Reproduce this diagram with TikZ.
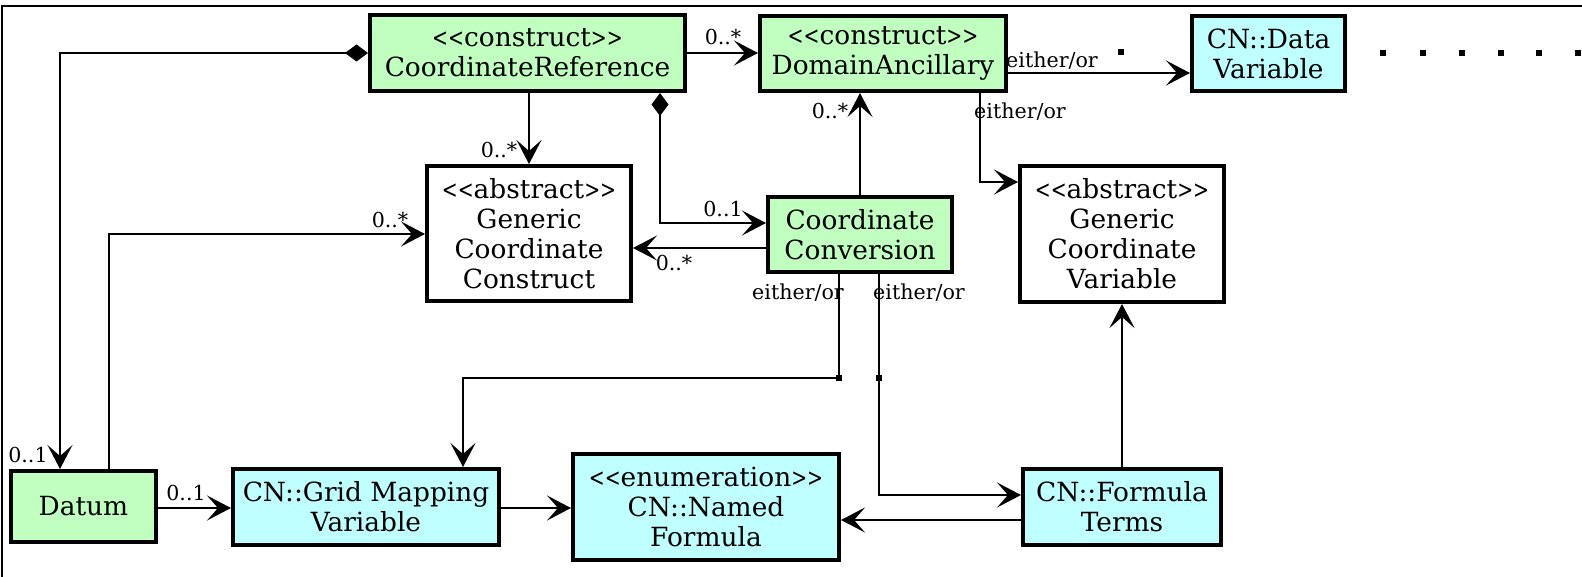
\documentclass[tikz,border=0pt]{standalone}
\usepackage{graphicx}
\usepackage{fontspec}
\setmainfont{DejaVu Serif}
\usetikzlibrary{arrows.meta}
\newcommand\lgu{\scalebox{0.72}[0.95]{<\kern0pt<}}
\newcommand\rgu{\scalebox{0.72}[0.95]{>\kern0pt>}}
\definecolor{boxgreen}{HTML}{C0FFC0}
\definecolor{boxcyan}{HTML}{C0FFFF}
\begin{document}
\begin{tikzpicture}[x=0.5pt,y=-0.5pt,
  box/.style={draw, line width=2pt, inner sep=0pt, align=center, font=\fontsize{13.2}{15}\selectfont},
  gbox/.style={box, fill=boxgreen},
  cbox/.style={box, fill=boxcyan},
  wbox/.style={box, fill=white},
  conn/.style={line width=1pt},
  arr/.style={conn, -{Stealth[length=12pt,width=12.5pt,inset=5.5pt]}},
  darr/.style={conn, {Diamond[length=11.5pt,width=8.5pt]}-{Stealth[length=12pt,width=12.5pt,inset=5.5pt]}},
  lab/.style={inner sep=0pt, font=\fontsize{10.3}{12}\selectfont},
  jdot/.style={fill, minimum size=2.8pt, inner sep=0pt, outer sep=0pt}
]
\useasboundingbox (0,0) rectangle (1582,577);
% frame
\draw[line width=1pt] (2,577) -- (2,6) -- (1582,6);

% boxes
\node[gbox, minimum width=157.5pt, minimum height=38pt] (CR) at (527.5,53) {\lgu construct\rgu\\CoordinateReference};
\node[gbox, minimum width=123pt, minimum height=37.5pt] (DA) at (883,53.5) {\lgu construct\rgu\\DomainAncillary};
\node[cbox, minimum width=76.5pt, minimum height=37.5pt] (DV) at (1268.5,53.5) {CN::Data\\Variable};
\node[wbox, minimum width=102pt, minimum height=67.5pt] (GCC) at (529,233.5) {\lgu abstract\rgu\\Generic\\Coordinate\\Construct};
\node[gbox, minimum width=92pt, minimum height=37.5pt] (CC) at (860,234.5) {Coordinate\\Conversion};
\node[wbox, minimum width=102pt, minimum height=68pt] (GCV) at (1122,234) {\lgu abstract\rgu\\Generic\\Coordinate\\Variable};
\node[gbox, minimum width=72.5pt, minimum height=35.5pt] (DT) at (83.5,506.5) {Datum};
\node[cbox, minimum width=133pt, minimum height=38pt] (GMV) at (366,507) {CN::Grid Mapping\\Variable};
\node[cbox, minimum width=133pt, minimum height=53pt] (NF) at (706,507) {\lgu enumeration\rgu\\CN::Named\\Formula};
\node[cbox, minimum width=99pt, minimum height=38pt] (FT) at (1122,507) {CN::Formula\\Terms};

% helper coordinates
\coordinate (p60) at (60,0);
\coordinate (c660) at (660,223);
\coordinate (c248) at (0,248);
\coordinate (c980) at (980,182);
\coordinate (c73) at (0,73);
\coordinate (j1) at (839,378);
\coordinate (g463) at (463,0);
\coordinate (j2) at (879,378);
\coordinate (k495) at (879,495);
\coordinate (m520) at (0,520);
\coordinate (n508) at (0,508);
\coordinate (p109) at (109,234);

% connectors
\draw[darr] (CR.west) -| (p60 |- DT.north);
\draw[arr] (CR.east) -- (CR.east -| DA.west);
\draw[arr] (GCC.north |- CR.south) -- (GCC.north);
\draw[darr] (c660 |- CR.south) |- (c660 -| CC.west);
\draw[arr] (c248 -| CC.west) -- (c248 -| GCC.east);
\draw[arr] (CC.north) -- (CC.north |- DA.south);
\draw[arr] (c980 |- DA.south) |- (c980 -| GCV.west);
\draw[arr] (c73 -| DA.east) -- (c73 -| DV.west);
\draw[arr] (j1 |- CC.south) -- (j1) -| (g463 |- GMV.north);
\draw[arr] (j2 |- CC.south) -- (k495) -- (k495 -| FT.west);
\draw[arr] (FT.north) -- (GCV.south);
\draw[arr] (m520 -| FT.west) -- (m520 -| NF.east);
\draw[arr] (n508 -| DT.east) -- (n508 -| GMV.west);
\draw[arr] (n508 -| GMV.east) -- (n508 -| NF.west);
\draw[arr] (p109 |- DT.north) -- (p109) -- (p109 -| GCC.west);

% junction marks and dots
\node[jdot] (jd1) at (j1) {};
\node[jdot] (jd2) at (j2) {};
\node[jdot] (d0) at (1121,52) {};
\node[jdot] (d1) at (1383,53) {};
\node[jdot] (d2) at (1423,53) {};
\node[jdot] (d3) at (1462,53) {};
\node[jdot] (d4) at (1501,53) {};
\node[jdot] (d5) at (1539,53) {};
\node[jdot] (d6) at (1578,53) {};

% labels
\node[lab] (l1) at (723,37) {0..*};
\node[lab] (l2) at (499,150) {0..*};
\node[lab] (l3) at (723,209) {0..1};
\node[lab] (l4) at (674,263) {0..*};
\node[lab] (l5) at (830,111) {0..*};
\node[lab] (l6) at (1020,112) {either/or};
\node[lab] (l7) at (1052,61) {either/or};
\node[lab] (l8) at (798,293) {either/or};
\node[lab] (l9) at (919,293) {either/or};
\node[lab] (l10) at (186,493) {0..1};
\node[lab] (l11) at (390,220) {0..*};
\node[lab] (l12) at (28,455) {0..1};
\end{tikzpicture}
\end{document}
